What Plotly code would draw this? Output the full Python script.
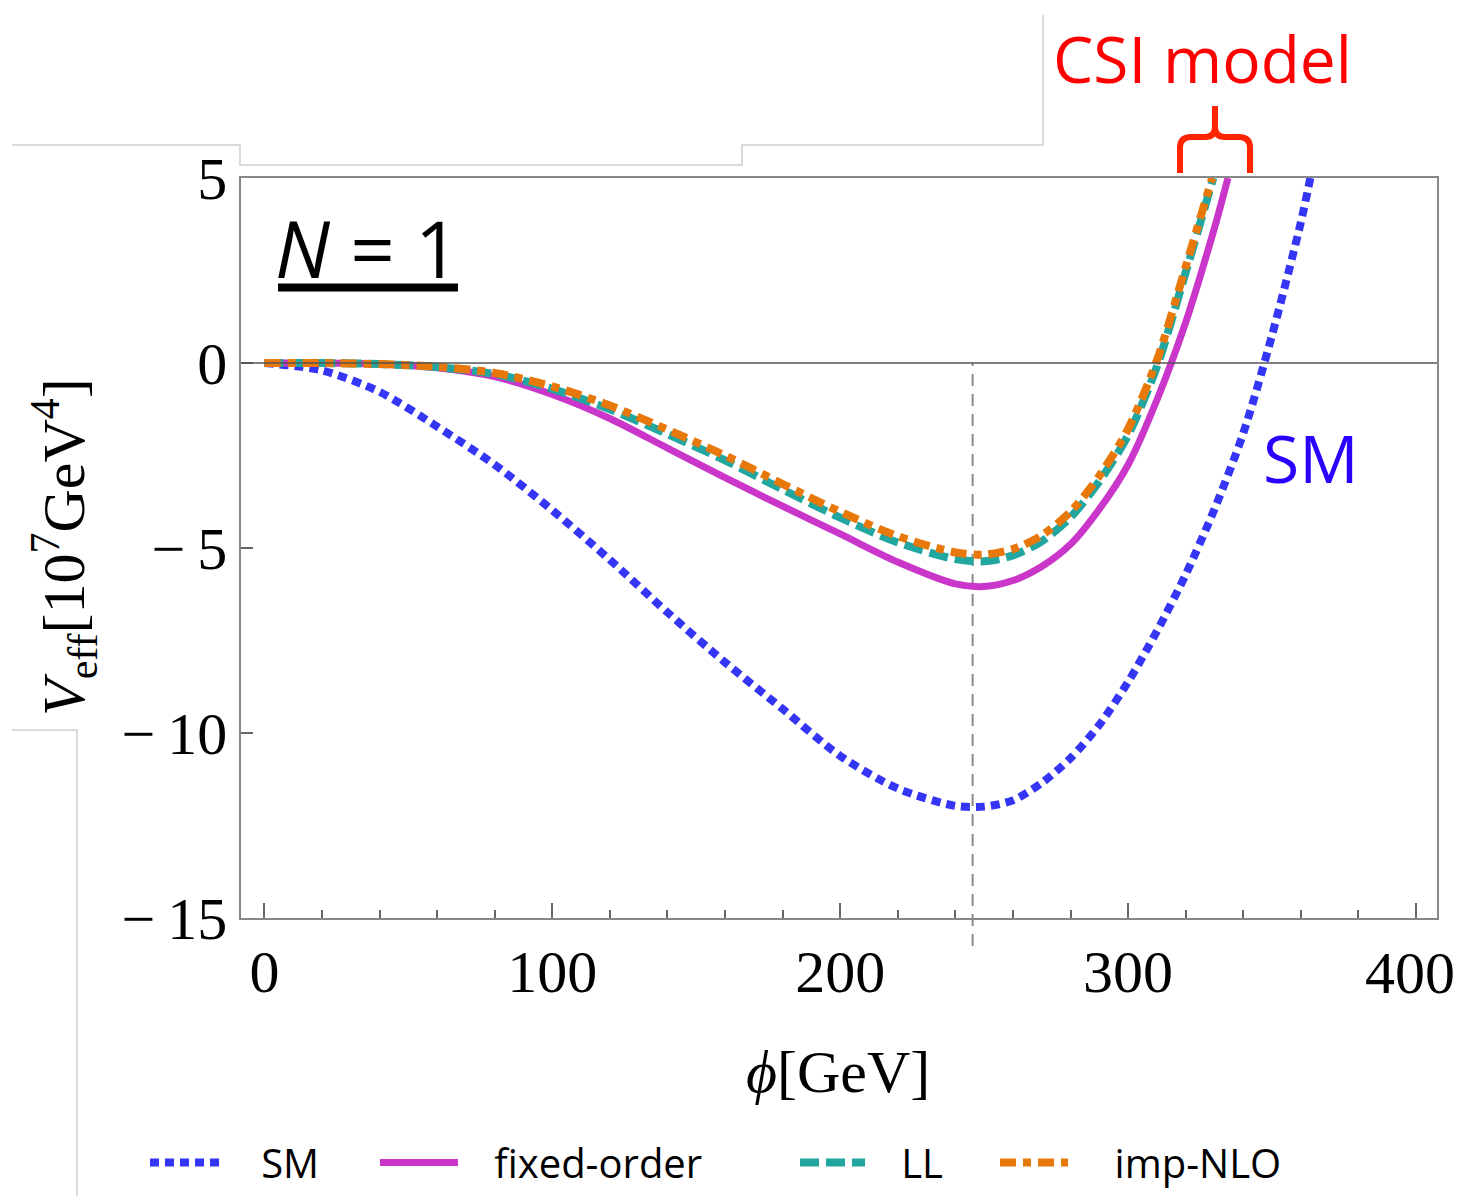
import plotly.graph_objects as go

# ---------------- data ----------------
sm_phi = [0, 20, 40, 60, 80, 100, 120, 140, 160, 180, 200, 220, 240, 250, 260, 270, 280, 290,
          300, 310, 320, 330, 340, 350, 360, 363.3]
sm_v = [0, -0.2, -0.78, -1.72, -2.75, -3.98, -5.32, -6.74, -8.09, -9.35, -10.62, -11.5, -11.97,
        -11.99, -11.82, -11.35, -10.68, -9.78, -8.62, -7.25, -5.72, -3.95, -1.9, 0.75, 3.8, 5.0]

fo_phi = [0, 20, 40, 60, 80, 100, 120, 140, 160, 180, 200, 220, 240, 250, 260, 270, 280, 290,
          300, 310, 320, 330, 334.7]
fo_v = [0, 0, -0.03, -0.13, -0.37, -0.85, -1.5, -2.3, -3.1, -3.87, -4.62, -5.38, -5.97, -6.04,
        -5.88, -5.5, -4.9, -3.95, -2.75, -1.0, 1.1, 3.65, 5.0]

ll_phi = [0, 20, 40, 60, 80, 100, 120, 140, 160, 180, 200, 220, 240, 250, 260, 270, 280, 290,
          300, 310, 320, 329.6]
ll_v = [0, 0, -0.03, -0.11, -0.3, -0.7, -1.25, -1.92, -2.63, -3.42, -4.18, -4.85, -5.3, -5.36,
        -5.2, -4.82, -4.17, -3.2, -1.95, -0.1, 2.45, 5.0]

nlo_phi = [0, 20, 40, 60, 80, 100, 120, 140, 160, 180, 200, 220, 240, 250, 260, 270, 280, 290,
           300, 310, 320, 329.2]
nlo_v = [0, 0, -0.03, -0.1, -0.27, -0.63, -1.15, -1.8, -2.5, -3.27, -4.02, -4.68, -5.12, -5.18,
         -5.03, -4.66, -4.02, -3.05, -1.78, 0.07, 2.6, 5.0]

series_names = ["SM", "fixed-order", "LL", "imp-NLO"]
vev = 246

x_tickvals = [0, 100, 200, 300, 400]
x_ticktext = ["0", "100", "200", "300", "400"]
y_tickvals = [-15, -10, -5, 0, 5]
y_ticktext = ["\u2212\u200915", "\u2212\u200910", "\u2212\u20095", "0", "5"]

# ---------------- layout geometry (page pixels -> figure) ----------------
OFF = 8                      # default body margin of the html page
W, H = 1463 - 2 * OFF, 1204 - 2 * OFF
PL, PR, PT, PB = 241, 1437, 178, 918      # plot box in page pixels
ML, MT = PL - OFF, PT - OFF
MR, MB = W - (PR - OFF), H - (PB - OFF)
PW, PH = PR - PL, PB - PT
XR = [-8.13, 407.3]
YR = [-15, 5]


def xp(px):
    return (px - PL) / PW


def yp(py):
    return (PB - py) / PH


SERIF = "Liberation Serif, Times New Roman, serif"
SANS = "Open Sans, Arial, sans-serif"

fig = go.Figure()

styles = [
    dict(color="#3535F5", width=8, dash="9px,6px"),
    dict(color="#C936C9", width=7, dash="solid"),
    dict(color="#22A6A0", width=8, dash="19px,7px"),
    dict(color="#E8780A", width=8, dash="16px,7px,8px,7px"),
]
legend_ids = ["legend", "legend2", "legend3", "legend4"]
data = [(sm_phi, sm_v), (fo_phi, fo_v), (ll_phi, ll_v), (nlo_phi, nlo_v)]
pad = ["\u00a0\u00a0\u00a0", "\u00a0\u00a0\u00a0", "\u00a0\u00a0\u00a0", "\u00a0\u00a0\u00a0\u00a0"]
for (xs, ys), name, st, lid, p in zip(data, series_names, styles, legend_ids, pad):
    fig.add_trace(go.Scatter(x=xs, y=ys, mode="lines", name=p + name, legend=lid,
                             line=dict(shape="spline", smoothing=0.8, **st)))

zero_frac = (0 - YR[0]) / (YR[1] - YR[0])
shapes = []
# vertical dashed line at the vev
shapes.append(dict(type="line", xref="x", yref="paper", x0=vev, x1=vev,
                   y0=yp(946), y1=zero_frac,
                   line=dict(color="#8a8a8a", width=2, dash="12px,8px"), layer="below"))
# zero line drawn over the curves
shapes.append(dict(type="line", xref="paper", yref="y", x0=0, x1=1, y0=0, y1=0,
                   line=dict(color="#555", width=1.5), layer="above"))
# underline of N = 1
shapes.append(dict(type="line", xref="paper", yref="paper", x0=xp(278), x1=xp(458),
                   y0=yp(287.5), y1=yp(287.5), line=dict(color="black", width=8)))


def pth(pts):
    out = []
    for cmd, coords in pts:
        out.append(cmd + " ".join(f"{xp(a):.5f},{yp(b):.5f}" for a, b in coords))
    return " ".join(out)


brace = pth([("M", [(1180, 173)]), ("L", [(1180, 148)]), ("Q", [(1180, 137), (1191, 137)]),
             ("L", [(1205, 137)]), ("Q", [(1215, 137), (1215, 127)]), ("L", [(1215, 106)]),
             ("M", [(1215, 127)]), ("Q", [(1215, 137), (1225, 137)]), ("L", [(1239, 137)]),
             ("Q", [(1250, 137), (1250, 148)]), ("L", [(1250, 173)])])
shapes.append(dict(type="path", xref="paper", yref="paper", path=brace,
                   line=dict(color="#FF2400", width=6)))

# light frame remnants of the original slide
frame1 = pth([("M", [(12, 145)]), ("L", [(240, 145)]), ("L", [(240, 165)]), ("L", [(742, 165)]),
              ("L", [(742, 145)]), ("L", [(1043, 145)]), ("L", [(1043, 15)])])
frame2 = pth([("M", [(12, 730)]), ("L", [(77, 730)]), ("L", [(77, 1204)])])
for fpath in (frame1, frame2):
    shapes.append(dict(type="path", xref="paper", yref="paper", path=fpath,
                       line=dict(color="#cfcfcf", width=1.5), layer="below"))

# the last x tick label sits at the right page edge: draw it right-anchored so it is not clipped
axis_ticktext = x_ticktext[:-1] + [""]

annotations = [
    dict(text="<i>N</i> = 1", xref="paper", yref="paper", x=xp(367), y=yp(248),
         showarrow=False, font=dict(family=SANS, size=78, color="black"),
         xanchor="center", yanchor="middle"),
    dict(text="CSI model", xref="paper", yref="paper", x=xp(1202), y=yp(58),
         showarrow=False, font=dict(family=SANS, size=64, color="#FF0000"),
         xanchor="center", yanchor="middle"),
    dict(text="SM", xref="paper", yref="paper", x=xp(1311), y=yp(457),
         showarrow=False, font=dict(family=SANS, size=66, color="#2B00FF"),
         xanchor="center", yanchor="middle"),
    dict(text="<i>\u03d5</i>[GeV]", xref="paper", yref="paper", x=xp(838), y=yp(1072),
         showarrow=False, font=dict(family=SERIF, size=60, color="black"),
         xanchor="center", yanchor="middle"),
    dict(text="<i>V</i><sub>eff</sub>[10<sup>7</sup>GeV<sup>4</sup>]", xref="paper", yref="paper",
         x=xp(64), y=yp(547), textangle=-90, showarrow=False,
         font=dict(family=SERIF, size=60, color="black"),
         xanchor="center", yanchor="middle"),
    dict(text=x_ticktext[-1], xref="paper", yref="paper", x=xp(1457), y=yp(973),
         showarrow=False, font=dict(family=SERIF, size=60, color="black"),
         xanchor="right", yanchor="middle"),
]

sample_start = [150, 380, 800, 1000]
sample_len = [75, 78, 65, 68]
legends = {}
for lid, s0, sl in zip(legend_ids, sample_start, sample_len):
    legends[lid] = dict(orientation="h", x=xp(s0 - 5), y=yp(1195), xanchor="left", yanchor="bottom",
                        font=dict(family=SANS, size=40, color="black"), itemwidth=sl,
                        bgcolor="rgba(0,0,0,0)", borderwidth=0)

fig.update_layout(
    width=W, height=H,
    margin=dict(l=ML, r=MR, t=MT, b=MB, autoexpand=False),
    paper_bgcolor="white", plot_bgcolor="white",
    shapes=shapes, annotations=annotations,
    showlegend=True,
    xaxis=dict(range=XR, tickvals=x_tickvals, ticktext=axis_ticktext, ticks="inside", ticklen=15,
               tickwidth=1.5, tickcolor="#666", showgrid=False, zeroline=False,
               showline=True, linecolor="#888", linewidth=1.5, mirror=True,
               tickfont=dict(family=SERIF, size=60, color="black"), ticklabelstandoff=0,
               minor=dict(dtick=20, tick0=0, ticks="inside", ticklen=8, tickwidth=1.5,
                          tickcolor="#666", showgrid=False)),
    yaxis=dict(range=YR, tickvals=y_tickvals, ticktext=y_ticktext, ticks="inside", ticklen=12,
               tickwidth=1.5, tickcolor="#666", showgrid=False, zeroline=False,
               showline=True, linecolor="#888", linewidth=1.5, mirror=True,
               tickfont=dict(family=SERIF, size=60, color="black")),
    **legends,
)

fig.write_html("out.html")
